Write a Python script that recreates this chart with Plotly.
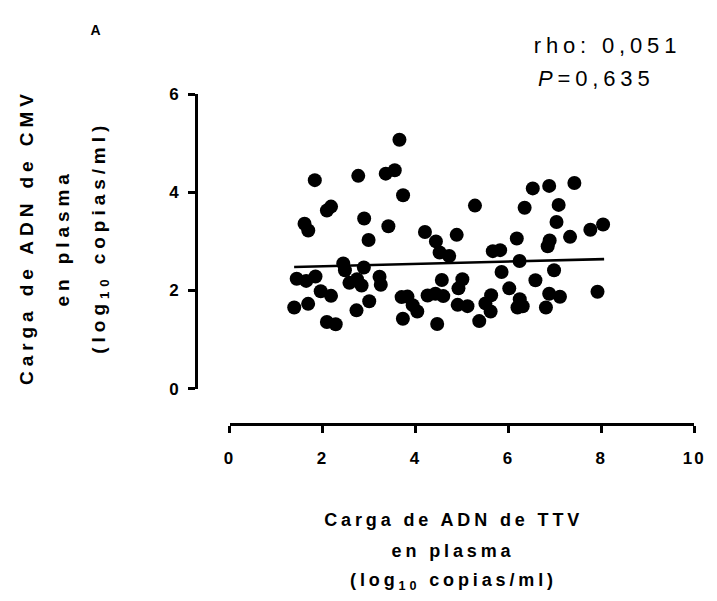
import plotly.graph_objects as go

# Plasma TTV DNA load vs plasma CMV DNA load (log10 copies/ml)
ttv_load = [3.656, 1.835, 2.770, 3.361, 3.555, 3.734, 2.095, 2.184, 1.614, 1.694,
            2.897, 3.418, 2.992, 5.281, 4.205, 4.441, 4.888, 4.521, 4.726, 6.525,
            6.878, 7.420, 6.350, 7.082, 7.036, 7.764, 8.038, 6.181, 6.888, 6.846,
            7.327, 5.665, 5.823, 6.241, 5.854, 6.983, 6.582, 6.019, 6.245, 6.196,
            6.308, 6.878, 7.110, 6.808, 7.918, 4.568, 5.010, 4.926, 4.262, 4.430,
            4.599, 3.703, 3.829, 3.941, 4.040, 4.909, 5.120, 5.506, 5.629, 5.618,
            3.730, 4.468, 5.373, 2.447, 2.483, 2.890, 1.445, 1.650, 1.850, 2.580,
            2.743, 2.842, 3.228, 3.255, 1.962, 2.184, 1.392, 1.692, 2.732, 3.006,
            2.095, 2.285]
cmv_load = [5.072, 4.249, 4.336, 4.381, 4.450, 3.941, 3.631, 3.710, 3.361, 3.221,
            3.468, 3.310, 3.029, 3.730, 3.191, 3.000, 3.134, 2.773, 2.704, 4.081,
            4.131, 4.190, 3.685, 3.744, 3.395, 3.237, 3.345, 3.059, 3.020, 2.901,
            3.093, 2.802, 2.822, 2.601, 2.378, 2.412, 2.210, 2.043, 1.822, 1.654,
            1.678, 1.934, 1.871, 1.654, 1.974, 2.214, 2.230, 2.043, 1.899, 1.934,
            1.885, 1.865, 1.875, 1.701, 1.573, 1.707, 1.681, 1.737, 1.903, 1.573,
            1.425, 1.318, 1.376, 2.550, 2.412, 2.467, 2.240, 2.195, 2.285, 2.155,
            2.230, 2.102, 2.279, 2.118, 1.983, 1.891, 1.654, 1.727, 1.595, 1.780,
            1.358, 1.312]

# Linear fit over the observed TTV range
fit_x = [1.39, 8.06]
fit_y = [2.48, 2.64]

x_ticks = [0, 2, 4, 6, 8, 10]
y_ticks = [0, 2, 4, 6]
rho_text = "rho: 0,051"
p_text = "<i>P</i>=0,635"
panel_label = "A"
x_title_lines = ["Carga de ADN de TTV", "en plasma", "(log<sub>10</sub> copias/ml)"]
y_title_lines = ["Carga de ADN de CMV", "en plasma", "(log<sub>10</sub> copias/ml)"]

W, H = 717, 601
FONT = "Arial, 'Liberation Sans', sans-serif"


def px(x):
    return x / W


def py(y):
    return 1 - y / H


fig = go.Figure()
fig.add_trace(go.Scatter(x=fit_x, y=fit_y, mode="lines",
                         line=dict(color="black", width=2.6),
                         hoverinfo="skip", showlegend=False))
fig.add_trace(go.Scatter(x=ttv_load, y=cmv_load, mode="markers",
                         marker=dict(color="black", size=14, line=dict(width=0)),
                         showlegend=False))

axis_common = dict(showgrid=False, zeroline=False, showline=True,
                   linecolor="black", linewidth=3, ticks="outside",
                   tickcolor="black", tickwidth=3, ticklen=7,
                   tickfont=dict(family=FONT, size=17, color="black", weight="bold"))

fig.update_layout(
    width=W, height=H, autosize=False,
    margin=dict(l=0, r=0, t=0, b=0),
    paper_bgcolor="white", plot_bgcolor="white",
    xaxis=dict(range=[0, 10], tickvals=x_ticks, domain=[px(229), px(703)],
               anchor="free", position=py(429), ticklabelstandoff=10,
               **axis_common),
    yaxis=dict(range=[0, 6], tickvals=y_ticks, domain=[py(392), py(88)],
               anchor="free", position=px(195), ticklabelstandoff=4,
               **axis_common),
)

annotations = []
y_font = dict(family=FONT, size=19, color="black", weight="bold")
x_font = dict(family=FONT, size=18, color="black", weight="bold")
for xc, line in zip([22, 59, 96], y_title_lines):
    annotations.append(dict(text=line, x=px(xc), y=py(236), xref="paper",
                            yref="paper", xanchor="center", yanchor="middle",
                            textangle=-90, showarrow=False, font=y_font,
                            name="ytitle"))
for yc, line in zip([528, 560, 591], x_title_lines):
    annotations.append(dict(text=line, x=px(457), y=py(yc), xref="paper",
                            yref="paper", xanchor="center", yanchor="middle",
                            showarrow=False, font=x_font, name="xtitle"))
annotations.append(dict(text=panel_label, x=px(94), y=py(22), xref="paper",
                        yref="paper", xanchor="center", yanchor="middle",
                        showarrow=False,
                        font=dict(family=FONT, size=14, color="black", weight="bold")))
stat_font = dict(family=FONT, size=22, color="black")
annotations.append(dict(text=rho_text, x=px(614), y=py(38), xref="paper", yref="paper",
                        xanchor="center", yanchor="middle", showarrow=False,
                        font=stat_font))
annotations.append(dict(text=p_text, x=px(603), y=py(72), xref="paper", yref="paper",
                        xanchor="center", yanchor="middle", showarrow=False,
                        font=stat_font))
fig.update_layout(annotations=annotations)

# Wide letter spacing for titles, statistics and tick labels
spacing_js = """
var gd = document.getElementById('{plot_id}');
var anns = gd.querySelectorAll('.annotation');
anns.forEach(function (a, i) {
  var t = a.querySelector('.annotation-text');
  if (!t) { return; }
  t.style.letterSpacing = (i < 3) ? '0.26em' : (i < 6 ? '0.215em' : '0.22em');
});
gd.querySelectorAll('.xtick text, .ytick text').forEach(function (t) {
  t.style.letterSpacing = '0.12em';
});
"""

fig.write_html("out.html", post_script=spacing_js)
